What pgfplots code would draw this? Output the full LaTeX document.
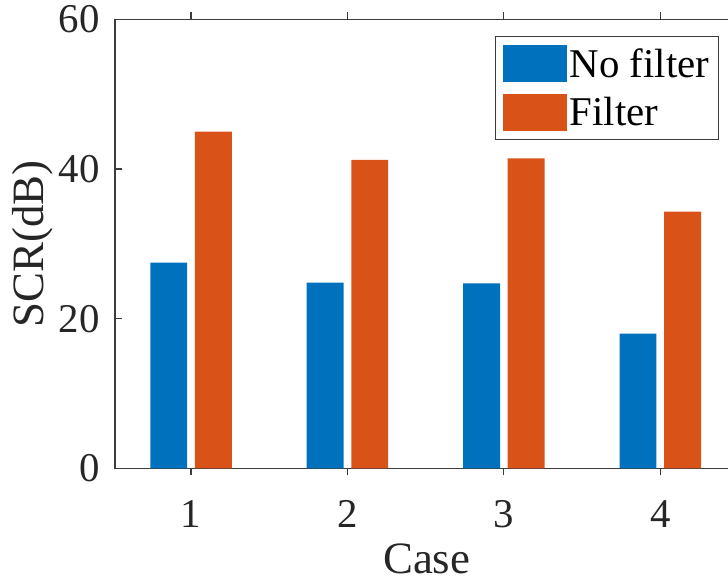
\documentclass[border=0pt]{standalone}
\usepackage{fontspec}
\setmainfont{Liberation Serif}
\usepackage{pgfplots}
\pgfplotsset{compat=1.18}
\definecolor{mblue}{HTML}{0072BD}
\definecolor{morange}{HTML}{D95319}
\definecolor{axgray}{HTML}{262626}
\begin{document}
\begin{tikzpicture}
\begin{axis}[
  scale only axis,
  width=623.5bp, height=449bp,
  xmin=0.514, xmax=4.5, ymin=0, ymax=60,
  xtick={1,2,3,4}, ytick={0,20,40,60},
  xtick pos=both, ytick pos=both,
  tick align=inside,
  major tick length=7bp,
  axis line style={draw=axgray!90, line width=1.2bp},
  every tick/.style={draw=axgray!90, line width=1.2bp},
  /pgf/number format/assume math mode=true,
  tick label style={font=\fontsize{41}{41}\selectfont, text=axgray},
  xticklabel style={anchor=base, inner sep=0pt, yshift=-51.7bp},
  yticklabel style={anchor=east, inner sep=0pt, xshift=-15bp},
  label style={font=\fontsize{45}{45}\selectfont, text=axgray},
  xlabel={Case},
  ylabel={SCR(dB)},
  xlabel style={at={(axis description cs:0.5,-0.2340)}, anchor=base, inner sep=0pt},
  ylabel style={at={(axis description cs:-0.099,0.5)}, anchor=south, inner sep=0pt},
  ybar=7.7bp, bar width=36.9bp,
  legend cell align=left,
  legend style={at={(rel axis cs:0.9692,0.963)}, anchor=north east,
    draw=axgray!90, line width=0.9bp,
    font=\fontsize{41}{41}\selectfont,
    inner xsep=6.7bp, inner ysep=9bp, row sep=12bp,
    nodes={inner xsep=3bp, inner ysep=0pt, anchor=west}},
  legend image code/.code={\fill[#1] (0bp,-18.35bp) rectangle (64bp,18.35bp);},
]
\addplot[fill=mblue, draw=none] coordinates {(1,27.5) (2,24.8) (3,24.7) (4,18.0)};
\addplot[fill=morange, draw=none] coordinates {(1,45.0) (2,41.2) (3,41.4) (4,34.3)};
\legend{No filter, Filter}
\end{axis}
\pgfresetboundingbox
\useasboundingbox (-115bp,-110.7bp) rectangle (613bp,468.3bp);
\end{tikzpicture}
\end{document}
